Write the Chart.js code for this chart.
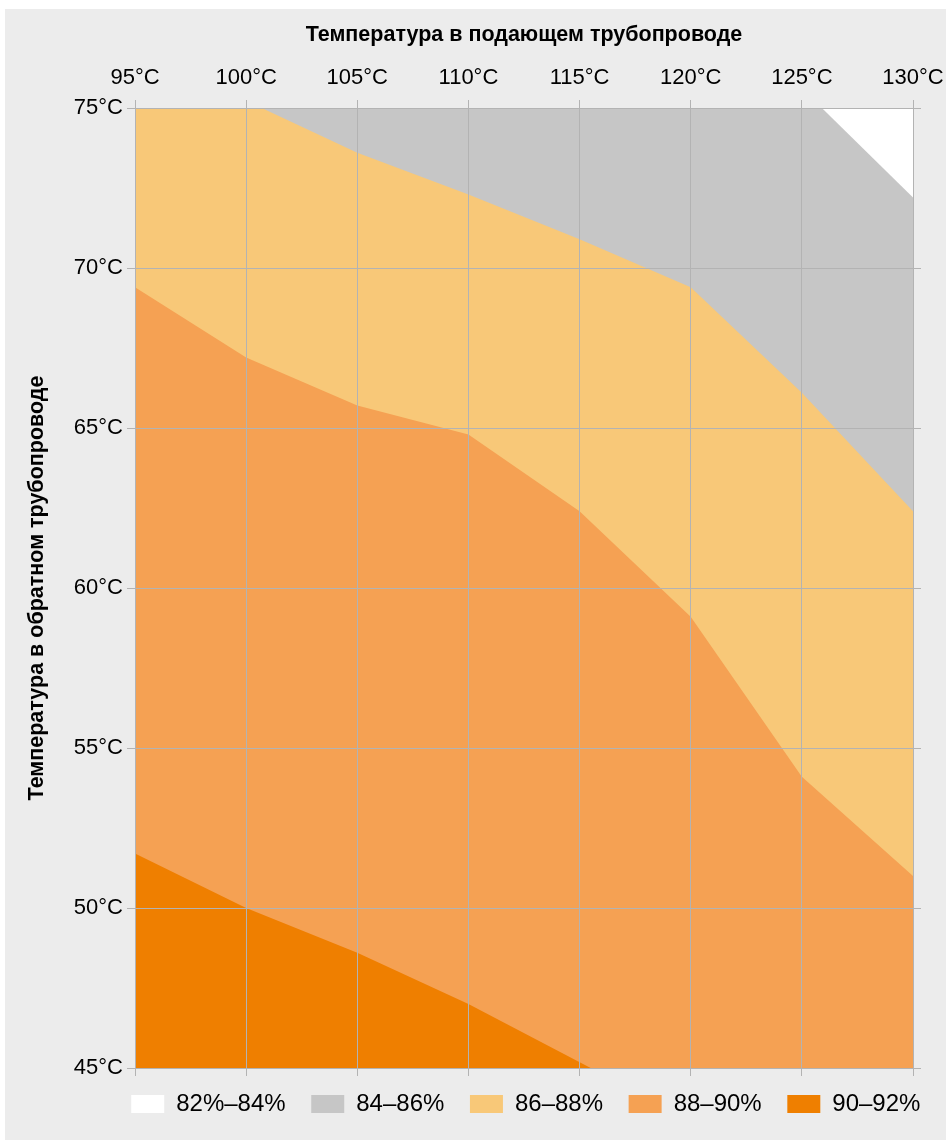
<!DOCTYPE html>
<html>
<head>
<meta charset="utf-8">
<script src="https://cdn.jsdelivr.net/npm/chart.js@4.4.0/dist/chart.umd.min.js"></script>
<style>
  html, body { margin: 0; padding: 0; background: #ffffff; }
  #panel { position: absolute; left: 5px; top: 9px; width: 941px; height: 1131px; background: #ececec; }
  #chart { display: block; }
</style>
</head>
<body>
<div id="panel"><canvas id="chart" width="941" height="1131"></canvas></div>
<script>
// boundaries between efficiency zones (x = supply temp, y = return temp)
const limit90X = [95, 100, 105, 110, 115.5, 130];
const limit90Y = [51.7, 50.0, 48.6, 47.0, 45.0, 45.0];
const limit88X = [95, 100, 105, 110, 115, 120, 125, 130];
const limit88Y = [69.4, 67.2, 65.7, 64.8, 62.4, 59.1, 54.1, 51.0];
const limit86X = [95, 100.7, 105, 110, 115, 120, 125, 130];
const limit86Y = [75, 75, 73.6, 72.3, 70.9, 69.4, 66.1, 62.4];
const limit84X = [95, 125.9, 130];
const limit84Y = [75, 75, 72.2];
const limit82X = [95, 130];
const limit82Y = [75, 75];

const zoneLabels = ["90–92%", "88–90%", "86–88%", "84–86%", "82%–84%"];
const zoneColors = ["#ef7f00", "#f5a153", "#f8c878", "#c6c6c6", "#ffffff"];

const xTicks = [95, 100, 105, 110, 115, 120, 125, 130];
const yTicks = [45, 50, 55, 60, 65, 70, 75];

const gridColor = "#b3b3b3";
const font = "'Liberation Sans', Arial, Helvetica, sans-serif";

function pts(xs, ys) {
  return xs.map((x, i) => ({ x: x, y: ys[i] }));
}

const zones = [
  pts(limit90X, limit90Y),
  pts(limit88X, limit88Y),
  pts(limit86X, limit86Y),
  pts(limit84X, limit84Y),
  pts(limit82X, limit82Y),
];

// each zone fills down to the bottom, the lower zones are drawn on top
const datasets = zones.map((data, i) => ({
  label: zoneLabels[i] + "\u2009\u2009",
  data: data,
  backgroundColor: zoneColors[i],
  borderColor: zoneColors[i],
  borderWidth: 0,
  pointRadius: 0,
  fill: "start",
  tension: 0,
}));

function axisGrid() {
  return { color: gridColor, lineWidth: 1, tickLength: 8, z: 1 };
}

new Chart("chart", {
  type: "line",
  data: { datasets: datasets },
  options: {
    responsive: false,
    animation: false,
    layout: { autoPadding: false, padding: { left: 0, top: 0, right: 0, bottom: 14 } },
    plugins: {
      legend: {
        position: "bottom",
        align: "end",
        reverse: true,
        labels: {
          boxWidth: 33,
          boxHeight: 18,
          padding: 16,
          color: "#000",
          font: { family: font, size: 24 },
        },
      },
      tooltip: { enabled: false },
    },
    scales: {
      x: {
        type: "linear",
        position: "top",
        min: 95,
        max: 130,
        afterBuildTicks: (axis) => { axis.ticks = xTicks.map((v) => ({ value: v })); },
        afterFit: (axis) => {
          axis.height = 99;
          axis.paddingLeft = 0;
          axis.paddingRight = 0;
        },
        ticks: {
          padding: 8.5,
          color: "#000",
          font: { family: font, size: 22 },
          callback: (v) => v + "°C",
        },
        grid: axisGrid(),
        border: { color: gridColor, z: 1 },
        title: {
          display: true,
          text: "Температура в подающем трубопроводе",
          color: "#000",
          font: { family: font, size: 21.5, weight: "bold" },
          padding: { top: 13, bottom: 0 },
        },
      },
      x2: {
        type: "linear",
        position: "bottom",
        min: 95,
        max: 130,
        afterBuildTicks: (axis) => { axis.ticks = xTicks.map((v) => ({ value: v })); },
        afterFit: (axis) => {
          axis.paddingLeft = 0;
          axis.paddingRight = 0;
        },
        ticks: { display: false },
        grid: axisGrid(),
        border: { color: gridColor, z: 1 },
      },
      y: {
        type: "linear",
        position: "left",
        min: 45,
        max: 75,
        afterBuildTicks: (axis) => { axis.ticks = yTicks.map((v) => ({ value: v })); },
        afterFit: (axis) => { axis.width = 130; },
        ticks: {
          padding: 4,
          color: "#000",
          font: { family: font, size: 22 },
          callback: (v) => v + "°C",
        },
        grid: axisGrid(),
        border: { color: gridColor, z: 1 },
        title: {
          display: true,
          text: "Температура в обратном трубопроводе",
          color: "#000",
          font: { family: font, size: 21.5, weight: "bold" },
          padding: { top: 19, bottom: 0 },
        },
      },
      y2: {
        type: "linear",
        position: "right",
        min: 45,
        max: 75,
        afterBuildTicks: (axis) => { axis.ticks = yTicks.map((v) => ({ value: v })); },
        afterFit: (axis) => { axis.width = 33; },
        ticks: { display: false },
        grid: axisGrid(),
        border: { color: gridColor, z: 1 },
      },
    },
  },
});
</script>
</body>
</html>
